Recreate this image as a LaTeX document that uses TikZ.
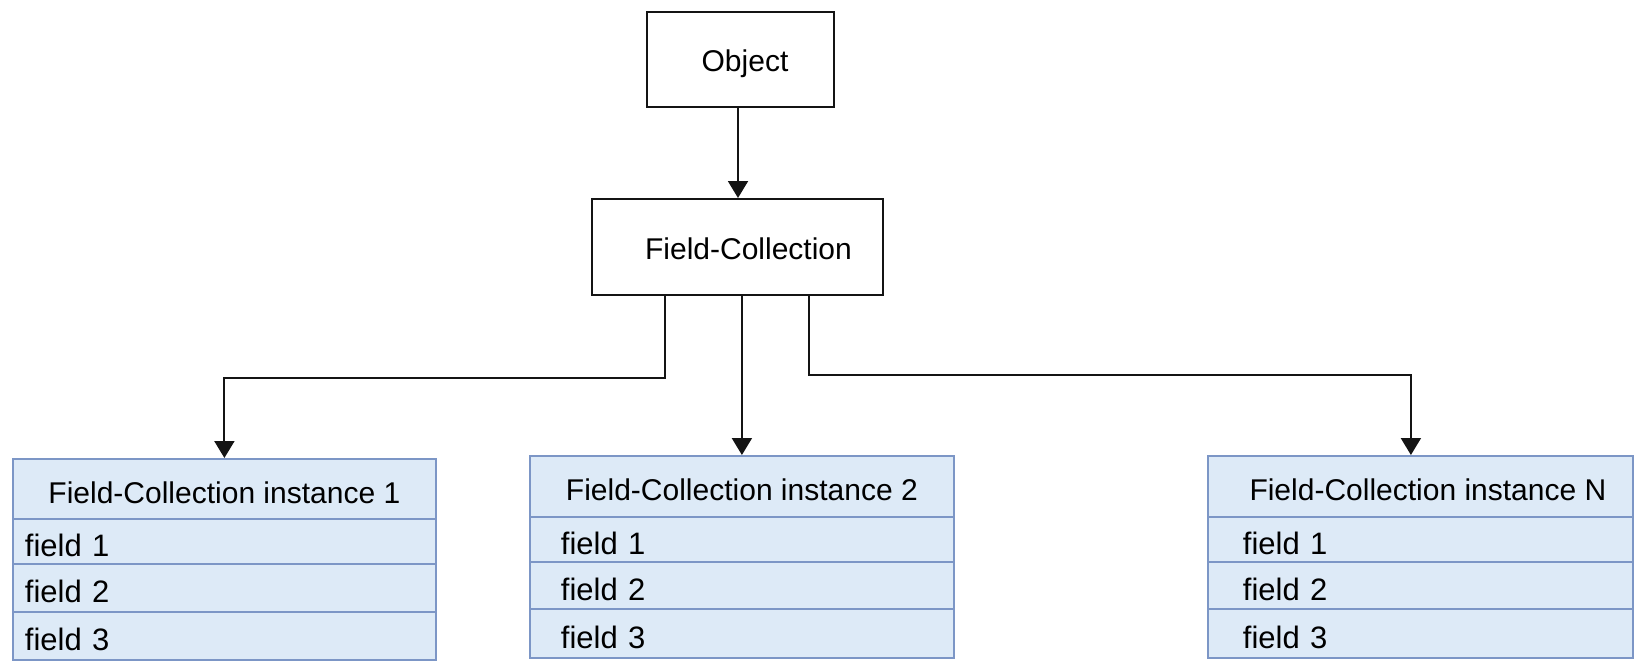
\documentclass[tikz,border=0pt]{standalone}
\usepackage{fontspec}
\setmainfont{Liberation Sans}
\usetikzlibrary{arrows.meta}
\definecolor{cellfill}{RGB}{221,234,247}
\definecolor{cellborder}{RGB}{124,150,198}
\definecolor{ink}{RGB}{20,20,20}
\begin{document}
\begin{tikzpicture}[x=1pt,y=1pt,
  plain/.style={draw=ink, line width=2pt, inner sep=0pt, text height=24pt, text depth=0pt, font=\fontsize{30}{36}\selectfont},
  hdr/.style={draw=cellborder, fill=cellfill, line width=1.8pt, inner sep=0pt, text height=29pt, text depth=0pt, anchor=north west, font=\fontsize{30}{36}\selectfont},
  fld/.style={draw=cellborder, fill=cellfill, line width=1.8pt, inner ysep=0pt, text height=30pt, text depth=0pt, align=left, anchor=north west, font=\fontsize{31}{36}\selectfont},
  arr/.style={draw=ink, line width=2pt, -{Triangle[length=17pt,width=20pt]}}]
\useasboundingbox (0,0) rectangle (1643,-669);

% top boxes
\node[plain, minimum width=187pt, minimum height=95pt] (obj) at (740.5,-59.5) {\hspace*{9pt}Object};
\node[plain, minimum width=291pt, minimum height=96pt] (fc) at (737.5,-247) {\hspace*{22pt}Field-Collection};

% instance 1
\node[hdr, minimum width=423pt, minimum height=60pt] (h1) at (12,-458) {Field-Collection instance 1};
\node[fld, inner xsep=12pt, text width=399pt, minimum height=45pt] (a1) at (12,-518) {field 1};
\node[fld, inner xsep=12pt, text width=399pt, minimum height=48pt] (a2) at (12,-563) {field 2};
\node[fld, inner xsep=12pt, text width=399pt, minimum height=48pt] (a3) at (12,-611) {field 3};

% instance 2
\node[hdr, minimum width=424pt, minimum height=61pt] (h2) at (529,-455) {Field-Collection instance 2};
\node[fld, inner xsep=31pt, text width=362pt, minimum height=45pt] (b1) at (529,-516) {field 1};
\node[fld, inner xsep=31pt, text width=362pt, minimum height=47pt] (b2) at (529,-561) {field 2};
\node[fld, inner xsep=31pt, text width=362pt, minimum height=49pt] (b3) at (529,-608) {field 3};

% instance N
\node[hdr, minimum width=425pt, minimum height=61pt] (hN) at (1207,-455) {\hspace*{15pt}Field-Collection instance N};
\node[fld, inner xsep=35pt, text width=355pt, minimum height=45pt] (c1) at (1207,-516) {field 1};
\node[fld, inner xsep=35pt, text width=355pt, minimum height=47pt] (c2) at (1207,-561) {field 2};
\node[fld, inner xsep=35pt, text width=355pt, minimum height=49pt] (c3) at (1207,-608) {field 3};

% connectors
\draw[arr] ([xshift=-2.5pt]obj.south) -- ([xshift=-2.5pt]obj.south |- fc.north);
\draw[arr] ([xshift=-72.5pt]fc.south) -- ++(0,-82) -| (h1.north);
\draw[arr] (h2.north |- fc.south) -- (h2.north);
\draw[arr] ([xshift=71.5pt]fc.south) -- ++(0,-79) -| ([xshift=-9.5pt]hN.north);
\end{tikzpicture}
\end{document}
